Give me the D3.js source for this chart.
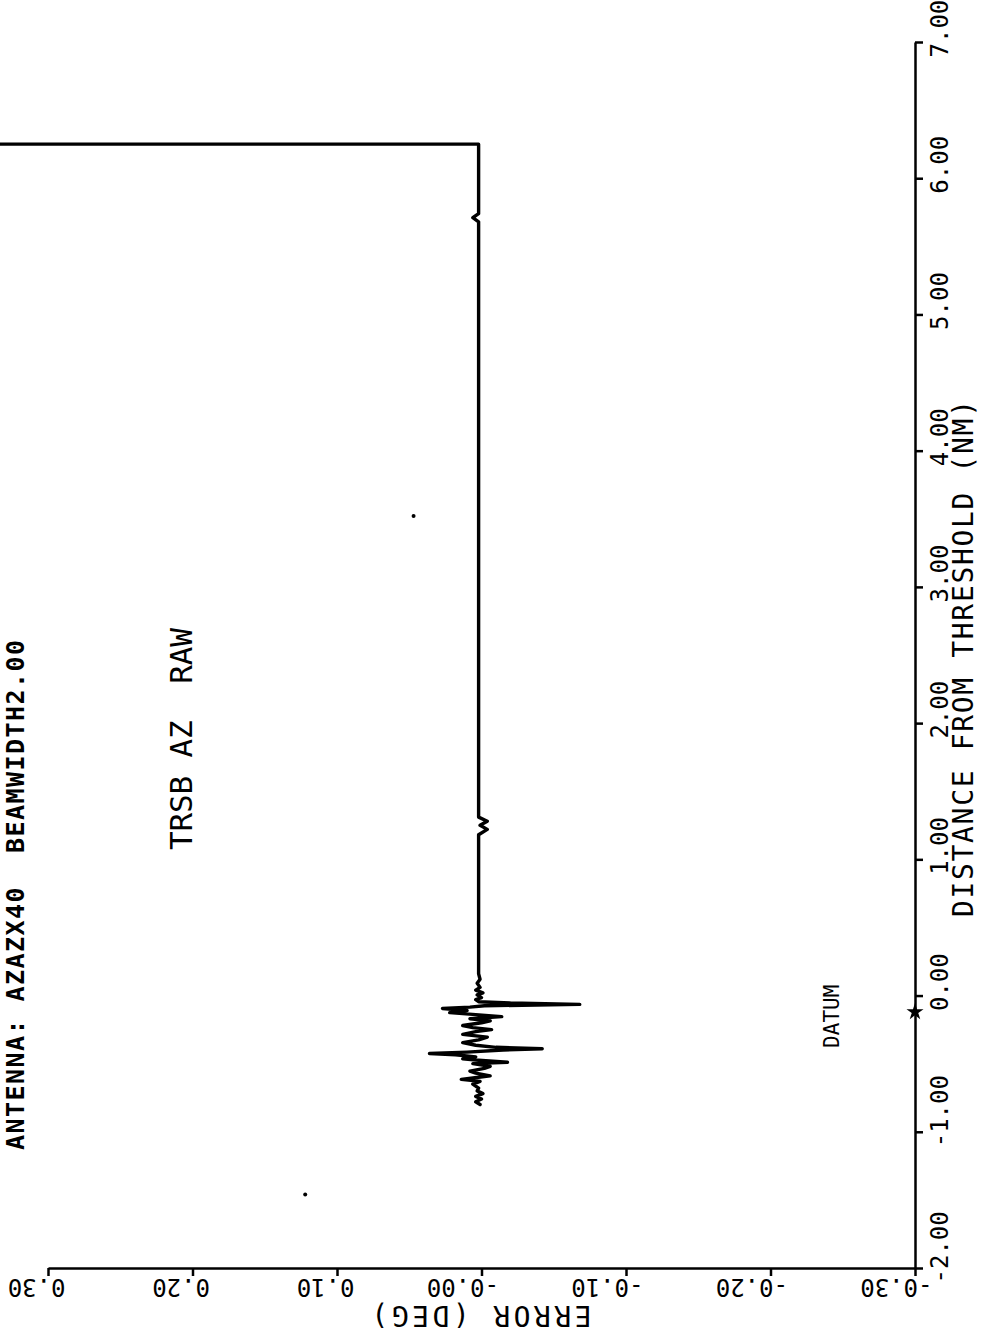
<!DOCTYPE html>
<html>
<head>
<meta charset="utf-8">
<script src="https://cdn.jsdelivr.net/npm/d3@7/dist/d3.min.js"></script>
<style>
  html, body { margin: 0; padding: 0; background: #fff; }
  svg { display: block; }
  text { font-family: "DejaVu Sans Mono", "Liberation Mono", monospace; fill: #000; }
</style>
</head>
<body>
<script>
// Error axis (degrees) and distance axis (nautical miles)
const errorTicks = [0.30, 0.20, 0.10, 0.00, -0.10, -0.20, -0.30];
const errorTickLabels = ["0.30", "0.20", "0.10", "-0.00", "-0.10", "-0.20", "-0.30"];
const distanceTicks = [-2, -1, 0, 1, 2, 3, 4, 5, 6, 7];
const distanceTickLabels = ["-2.00", "-1.00", "0.00", "1.00", "2.00", "3.00", "4.00", "5.00", "6.00", "7.00"];

// TRSB azimuth raw error trace, ordered by distance from threshold
const traceDistance = [
  -0.80, -0.78, -0.76, -0.74, -0.72, -0.70, -0.68, -0.65, -0.63, -0.615,
  -0.60, -0.59, -0.57, -0.555, -0.535, -0.52, -0.50, -0.49, -0.475, -0.465,
  -0.45, -0.435, -0.425, -0.415, -0.40, -0.39, -0.38, -0.365, -0.345, -0.325,
  -0.305, -0.285, -0.265, -0.25, -0.235, -0.22, -0.20, -0.185, -0.17, -0.155,
  -0.14, -0.125, -0.11, -0.095, -0.085, -0.075, -0.065, -0.055, -0.045, -0.03,
  -0.015, 0.005, 0.02, 0.04, 0.06, 0.09, 0.12, 0.16, 0.50, 1.00,
  1.18, 1.22, 1.25, 1.28, 1.31, 1.40, 2.50, 4.00, 5.00, 5.68,
  5.71, 5.74, 6.00, 6.25, 6.25
];
const traceError = [
  0.001, 0.004, 0.000, 0.004, -0.001, 0.003, 0.002, 0.006, 0.001, 0.014,
  0.002, -0.006, 0.004, 0.008, -0.002, -0.006, 0.006, -0.018, 0.002, 0.013,
  0.004, 0.018, 0.036, 0.010, -0.015, -0.042, -0.010, 0.004, 0.013, 0.002,
  -0.004, 0.013, 0.004, -0.007, 0.006, 0.013, 0.000, -0.006, 0.008, -0.014,
  0.004, 0.022, 0.010, 0.027, 0.008, -0.002, -0.068, -0.020, 0.002, 0.004,
  0.000, 0.003, -0.001, 0.004, 0.001, 0.003, 0.001, 0.002, 0.002, 0.002,
  0.002, -0.004, 0.001, -0.004, 0.002, 0.002, 0.002, 0.002, 0.002, 0.002,
  0.006, 0.002, 0.002, 0.002, 0.40
];

// Isolated plotted points
const strayDistance = [-1.46, 3.52];
const strayError = [0.122, 0.047];

// Datum marker on the distance axis
const datumDistance = -0.12;
const datumError = -0.30;

const W = 985, H = 1331;
const svg = d3.select("body").append("svg")
  .attr("width", W).attr("height", H)
  .attr("viewBox", `0 0 ${W} ${H}`);

svg.append("rect").attr("width", W).attr("height", H).attr("fill", "#fff");

// Plot is laid out sideways: error runs right-to-left, distance bottom-to-top
const x = d3.scaleLinear().domain([0.30, -0.30]).range([48, 915]);
const y = d3.scaleLinear().domain([-2, 7]).range([1268, 42]);

const AXIS_W = 2.5;

// Error axis along the bottom, labels upside down
const gx = svg.append("g")
  .attr("transform", `translate(0,${y(-2)})`)
  .call(d3.axisBottom(x)
    .tickValues(errorTicks)
    .tickSize(8)
    .tickSizeOuter(0)
    .tickFormat((d, i) => errorTickLabels[i]));
gx.attr("font-family", null).attr("font-size", 24);
gx.select(".domain").attr("stroke-width", AXIS_W);
gx.selectAll(".tick line").attr("stroke-width", AXIS_W);
gx.selectAll(".tick text")
  .attr("x", 0).attr("y", 0).attr("dy", null)
  .attr("text-anchor", "start")
  .attr("transform", "translate(17,11) rotate(180)");

// Distance axis along the right, labels reading upward
const gy = svg.append("g")
  .attr("transform", `translate(${x(-0.30)},0)`)
  .call(d3.axisRight(y)
    .tickValues(distanceTicks)
    .tickSize(8)
    .tickSizeOuter(0)
    .tickFormat((d, i) => distanceTickLabels[i]));
gy.attr("font-family", null).attr("font-size", 24);
gy.select(".domain").attr("stroke-width", AXIS_W);
gy.selectAll(".tick line").attr("stroke-width", AXIS_W);
gy.selectAll(".tick text")
  .attr("x", 0).attr("y", 0).attr("dy", null)
  .attr("text-anchor", "start")
  .attr("transform", "translate(33,15) rotate(-90)");

// Axis titles
svg.append("text")
  .attr("transform", `translate(973,917) rotate(-90)`)
  .attr("text-anchor", "start")
  .attr("font-size", 28)
  .attr("textLength", 517)
  .attr("lengthAdjust", "spacing")
  .text("DISTANCE FROM THRESHOLD (NM)");

svg.append("text")
  .attr("transform", `translate(${x(0)},1306) rotate(180)`)
  .attr("text-anchor", "middle")
  .attr("font-size", 28)
  .attr("textLength", 220)
  .attr("lengthAdjust", "spacing")
  .text("ERROR (DEG)");

// Header line along the left edge
svg.append("text")
  .attr("transform", "translate(24,1150) rotate(-90)")
  .attr("text-anchor", "start")
  .attr("font-size", 25)
  .attr("font-weight", "bold")
  .attr("textLength", 510)
  .attr("lengthAdjust", "spacing")
  .style("white-space", "pre")
  .text("ANTENNA: AZAZX40  BEAMWIDTH2.00");

// Plot caption
svg.append("text")
  .attr("transform", "translate(192,850) rotate(-90)")
  .attr("text-anchor", "start")
  .attr("font-size", 31)
  .attr("textLength", 222)
  .attr("lengthAdjust", "spacing")
  .style("white-space", "pre")
  .text("TRSB AZ  RAW");

// Error trace
const trace = traceDistance.map((d, i) => ({ d, e: traceError[i] }));
svg.append("path")
  .datum(trace)
  .attr("fill", "none")
  .attr("stroke", "#000")
  .attr("stroke-width", 3.4)
  .attr("stroke-linejoin", "round")
  .attr("stroke-linecap", "round")
  .attr("d", d3.line().x(p => x(p.e)).y(p => y(p.d)));

// Isolated points
svg.selectAll("circle.stray")
  .data(strayDistance.map((d, i) => ({ d, e: strayError[i] })))
  .join("circle")
  .attr("class", "stray")
  .attr("cx", p => x(p.e))
  .attr("cy", p => y(p.d))
  .attr("r", 2)
  .attr("fill", "#000");

// Datum marker and label
svg.append("path")
  .attr("transform", `translate(${x(datumError)},${y(datumDistance)})`)
  .attr("d", d3.symbol().type(d3.symbolStar).size(90)())
  .attr("fill", "#000");

svg.append("text")
  .attr("transform", `translate(${x(datumError) - 76},${y(datumDistance) + 36}) rotate(-90)`)
  .attr("text-anchor", "start")
  .attr("font-size", 21)
  .text("DATUM");
</script>
</body>
</html>
